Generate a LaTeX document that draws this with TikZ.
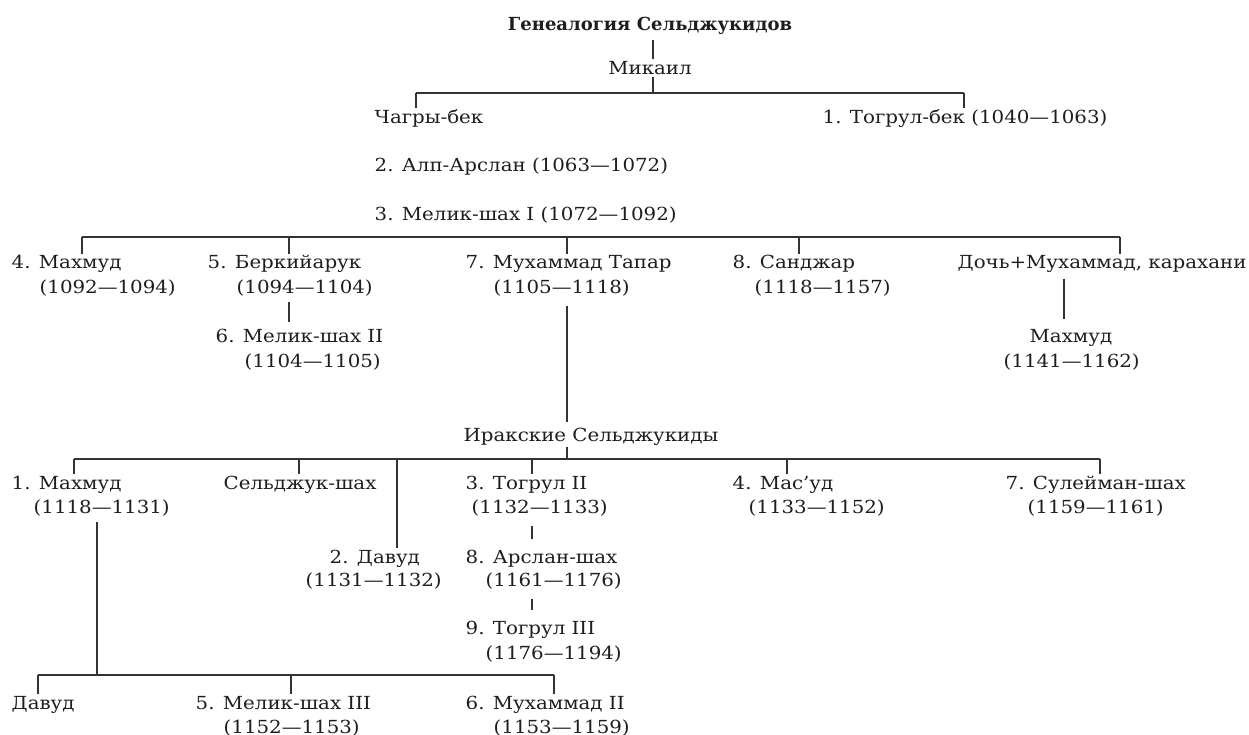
\documentclass[tikz,border=0pt]{standalone}
\usepackage{fontspec}
\setmainfont{DejaVu Serif}[FakeStretch=1.1]
\newfontfamily\ttlfont{DejaVu Serif}
\definecolor{ink}{HTML}{1E1E1E}
\definecolor{linec}{HTML}{333333}
\begin{document}
\begin{tikzpicture}[x=1pt,y=-1pt,
  nm/.style={inner sep=1.5pt, anchor=base west, text=ink, font=\fontsize{18}{21}\selectfont},
  ctr/.style={nm, anchor=base},
  conn/.style={draw=linec, line width=1.3pt},
]
\useasboundingbox (0,0) rectangle (1249,735);
\fill[white] (0,0) rectangle (1249,735);

% --- top ---
\node[ctr, font=\ttlfont\bfseries\fontsize{18}{21}\selectfont] (title) at (650,31) {Генеалогия Сельджукидов};
\node[ctr] (mik) at (650,75) {Микаил};
\node[nm] (chag) at (373,124) {Чагры-бек};
\node[nm] (togbek) at (821,124) {1. Тогрул-бек (1040—1063)};
\node[nm] (alp) at (373,172) {2. Алп-Арслан (1063—1072)};
\node[nm] (mel1) at (373,221) {3. Мелик-шах I (1072—1092)};

% --- second generation ---
\node[nm] (mah4) at (10,269) {4. Махмуд};
\node[nm] (mah4d) at (38,293) {(1092—1094)};
\node[nm] (berk) at (206,269) {5. Беркийарук};
\node[nm] (berkd) at (235,293) {(1094—1104)};
\node[nm] (tapar) at (464,269) {7. Мухаммад Тапар};
\node[nm] (tapard) at (492,293) {(1105—1118)};
\node[nm] (sanj) at (731,269) {8. Санджар};
\node[nm] (sanjd) at (753,293) {(1118—1157)};
\node[nm] (doch) at (956,269) {Дочь+Мухаммад, карахани};
\node[nm] (mel2) at (214,342) {6. Мелик-шах II};
\node[nm] (mel2d) at (243,367) {(1104—1105)};
\node[nm] (mahr) at (1028,342) {Махмуд};
\node[nm] (mahrd) at (1002,367) {(1141—1162)};

% --- Iraqi Seljuks ---
\node[nm] (irak) at (462,441) {Иракские Сельджукиды};
\node[nm] (mah1) at (10,489) {1. Махмуд};
\node[nm] (mah1d) at (32,513) {(1118—1131)};
\node[nm] (selj) at (222,489) {Сельджук-шах};
\node[nm] (tog2) at (464,489) {3. Тогрул II};
\node[nm] (tog2d) at (470,513) {(1132—1133)};
\node[nm] (masud) at (731,489) {4. Мас’уд};
\node[nm] (masudd) at (747,513) {(1133—1152)};
\node[nm] (sul) at (1004,489) {7. Сулейман-шах};
\node[nm] (suld) at (1026,513) {(1159—1161)};
\node[nm] (dav2) at (328,563) {2. Давуд};
\node[nm] (dav2d) at (304,586) {(1131—1132)};
\node[nm] (arsl) at (464,563) {8. Арслан-шах};
\node[nm] (arsld) at (484,586) {(1161—1176)};
\node[nm] (tog3) at (464,634) {9. Тогрул III};
\node[nm] (tog3d) at (484,659) {(1176—1194)};
\node[nm] (davud) at (10,709) {Давуд};
\node[nm] (mel3) at (194,709) {5. Мелик-шах III};
\node[nm] (mel3d) at (222,733) {(1152—1153)};
\node[nm] (muh2) at (464,709) {6. Мухаммад II};
\node[nm] (muh2d) at (492,733) {(1153—1159)};

% --- bracket coordinates ---
\coordinate (b1) at (653,93);
\coordinate (b1l) at (416,93);
\coordinate (b1r) at (964,93);
\coordinate (b2l) at (82,237);
\coordinate (b2b) at (289,237);
\coordinate (b2t) at (567,237);
\coordinate (b2s) at (799,237);
\coordinate (b2r) at (1120,237);
\coordinate (dm) at (1064,300);
\coordinate (b3l) at (74,459);
\coordinate (b3s) at (299,459);
\coordinate (b3d) at (397,459);
\coordinate (b3t) at (532,459);
\coordinate (b3i) at (567,459);
\coordinate (b3m) at (787,459);
\coordinate (b3r) at (1100,459);
\coordinate (b4l) at (38,675);
\coordinate (b4m) at (97,675);
\coordinate (b4c) at (291,675);
\coordinate (b4r) at (554,675);

% --- connectors ---
\draw[conn, shorten <=3pt, shorten >=1pt] (title.south -| b1) -- (mik.north -| b1);
\draw[conn] (mik.south -| b1) -- (b1);
\draw[conn] (b1l) -- (b1r);
\draw[conn] (b1l) -- (b1l |- chag.north);
\draw[conn] (b1r) -- (b1r |- togbek.north);

\draw[conn] (b2l) -- (b2r);
\draw[conn] (b2l) -- (b2l |- mah4.north);
\draw[conn] (b2b) -- (b2b |- berk.north);
\draw[conn] (b2t) -- (b2t |- tapar.north);
\draw[conn] (b2s) -- (b2s |- sanj.north);
\draw[conn] (b2r) -- (b2r |- doch.north);
\draw[conn, shorten <=4pt, shorten >=5pt] (b2b |- berkd.south) -- (b2b |- mel2.north);
\draw[conn, shorten <=8pt, shorten >=4pt] (b2t |- tapard.south) -- (b2t |- irak.north);
\draw[conn, shorten <=4pt, shorten >=8pt] (dm |- doch.south) -- (dm |- mahr.north);

\draw[conn] (b3i |- irak.south) -- (b3i);
\draw[conn] (b3l) -- (b3r);
\draw[conn] (b3l) -- (b3l |- mah1.north);
\draw[conn] (b3s) -- (b3s |- selj.north);
\draw[conn] (b3d) -- (b3d |- dav2.north);
\draw[conn] (b3t) -- (b3t |- tog2.north);
\draw[conn] (b3m) -- (b3m |- masud.north);
\draw[conn] (b3r) -- (b3r |- sul.north);
\draw[conn, shorten <=8pt, shorten >=9pt] (b3t |- tog2d.south) -- (b3t |- arsl.north);
\draw[conn, shorten <=8pt, shorten >=9pt] (b3t |- arsld.south) -- (b3t |- tog3.north);

\draw[conn, shorten <=4pt] (b4m |- mah1d.south) -- (b4m);
\draw[conn] (b4l) -- (b4r);
\draw[conn] (b4l) -- (b4l |- davud.north);
\draw[conn] (b4c) -- (b4c |- mel3.north);
\draw[conn] (b4r) -- (b4r |- muh2.north);
\end{tikzpicture}
\end{document}
